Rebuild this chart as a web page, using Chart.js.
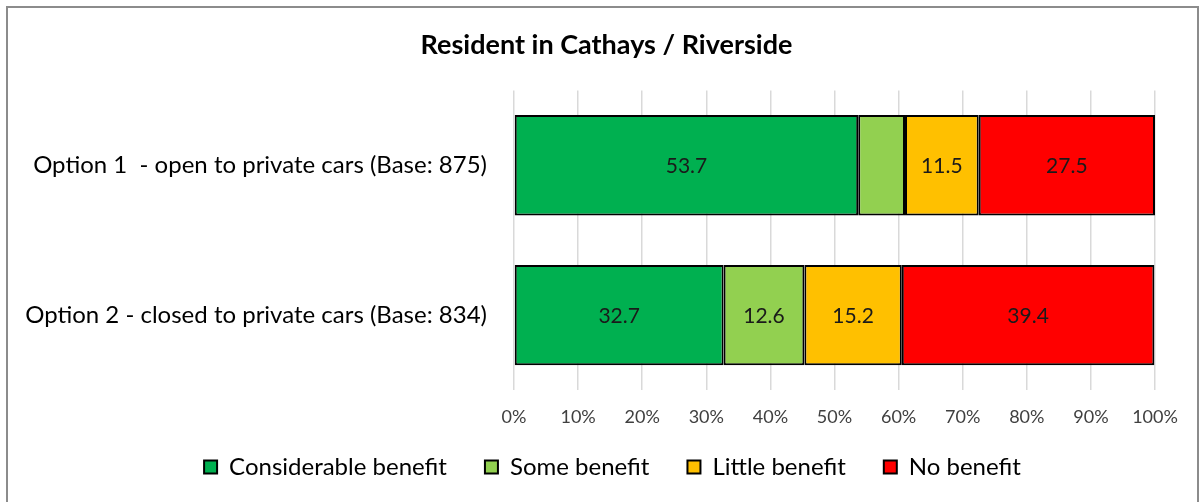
<!DOCTYPE html>
<html>
<head>
<meta charset="utf-8">
<script src="https://cdn.jsdelivr.net/npm/chart.js@4"></script>
<style>
  html, body { margin: 0; padding: 0; background: #fff; overflow: hidden; }
  #wrap { position: relative; width: 1203px; height: 502px; }
  #frame { position: absolute; left: 6px; top: 6px; width: 1193px; height: 510px; border: 2px solid #8c8c8c; box-sizing: border-box; pointer-events: none; }
  canvas { position: absolute; left: 0; top: 0; }
</style>
</head>
<body>
<div id="wrap">
  <canvas id="benefitChart" width="1203" height="502"></canvas>
  <div id="frame"></div>
</div>
<script>
const chartTitle = 'Resident in Cathays / Riverside';
const categories = [
  'Option 1  - open to private cars (Base: 875)',
  'Option 2 - closed to private cars (Base: 834)'
];
const seriesNames = ['Considerable benefit', 'Some benefit', 'Little benefit', 'No benefit'];
const considerable = [53.7, 32.7];
const some = [7.3, 12.6];
const little = [11.5, 15.2];
const none = [27.5, 39.4];
const seriesColors = ['#00B050', '#92D050', '#FFC000', '#FF0000'];
const tickValues = [0, 10, 20, 30, 40, 50, 60, 70, 80, 90, 100];

const FONT = 'Lato, "Open Sans", sans-serif';

// draws the numbers in the middle of each segment (tiny ones left blank)
const segmentLabels = {
  id: 'segmentLabels',
  afterDatasetsDraw(chart) {
    const ctx = chart.ctx;
    ctx.save();
    ctx.font = '21px ' + FONT;
    ctx.fillStyle = '#1a1a1a';
    ctx.textAlign = 'center';
    ctx.textBaseline = 'middle';
    chart.data.datasets.forEach((ds, i) => {
      const meta = chart.getDatasetMeta(i);
      meta.data.forEach((bar, j) => {
        const v = ds.data[j];
        if (v < 10) return;
        const p = bar.getCenterPoint();
        ctx.fillText(v.toFixed(1), p.x, p.y + 1);
      });
    });
    ctx.restore();
  }
};

// legend + title sit a bit right of centre in the original,
// and the legend is kept compact so the plot reaches further down
const boxNudge = {
  id: 'boxNudge',
  beforeLayout(chart) {
    const lg = chart.legend;
    if (lg && !lg._patched) {
      const fit = lg.fit;
      lg.fit = function () {
        fit.call(this);
        this.height = 65;
      };
      lg._patched = true;
    }
  },
  afterLayout(chart) {
    const lg = chart.legend;
    lg.left += 35;
    lg.right += 35;
    lg.top -= 11;
    lg.bottom -= 11;
    const tb = chart.titleBlock;
    tb.left += 29;
    tb.right += 29;
  }
};

const seriesData = [considerable, some, little, none];

new Chart(document.getElementById('benefitChart'), {
  type: 'bar',
  data: {
    labels: categories,
    datasets: seriesNames.map((name, i) => ({
      label: name,
      data: seriesData[i],
      backgroundColor: seriesColors[i],
      borderColor: '#000',
      borderWidth: 2,
      borderSkipped: false,
      barPercentage: 0.67,
      categoryPercentage: 1
    }))
  },
  options: {
    indexAxis: 'y',
    responsive: false,
    animation: false,
    layout: { padding: { left: 0, right: 48, top: 29, bottom: 9 } },
    plugins: {
      title: {
        display: true,
        text: chartTitle,
        color: '#000',
        font: { family: FONT, size: 27, weight: 'bold' },
        padding: { top: 0, bottom: 29 }
      },
      legend: {
        position: 'bottom',
        labels: {
          color: '#000',
          font: { family: FONT, size: 24 },
          boxWidth: 13,
          boxHeight: 13,
          padding: 38
        }
      },
      tooltip: { enabled: false }
    },
    scales: {
      x: {
        stacked: true,
        min: 0,
        max: 100,
        afterBuildTicks(scale) {
          scale.ticks = tickValues.map(v => ({ value: v }));
        },
        afterFit(scale) { scale.height = 38; },
        ticks: {
          callback: v => v + '%',
          color: '#404040',
          font: { family: FONT, size: 18 },
          padding: 16
        },
        grid: { color: '#d9d9d9', lineWidth: 1.5, drawTicks: false },
        border: { display: false }
      },
      y: {
        stacked: true,
        afterFit(scale) { scale.width = 514; },
        ticks: {
          color: '#000',
          font: { family: FONT, size: 24 },
          padding: 19
        },
        grid: { display: false },
        border: { display: false }
      }
    }
  },
  plugins: [segmentLabels, boxNudge]
});
</script>
</body>
</html>
